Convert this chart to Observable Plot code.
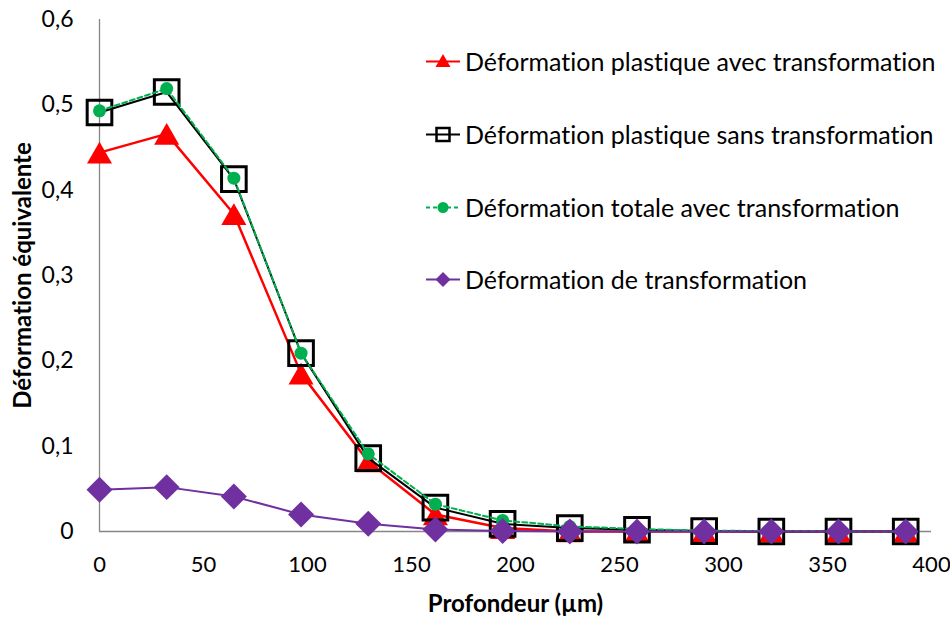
<!DOCTYPE html>
<html><head><meta charset="utf-8">
<script src="https://cdn.jsdelivr.net/npm/d3@7"></script>
<script src="https://cdn.jsdelivr.net/npm/@observablehq/plot@0.6"></script>
<style>
body{margin:0;background:#fff;}
#wrap{position:relative;width:950px;height:617px;font-family:Lato,"Open Sans",sans-serif;}
#wrap, #wrap svg, #wrap text{font-variant-ligatures:none;font-feature-settings:"liga" 0, "clig" 0;}
#legend .row{position:absolute;left:426px;display:flex;align-items:center;white-space:nowrap;font-size:25px;color:#000;height:30px;}
#legend svg{margin-right:5px;}
g[aria-label="x-axis label"] text, g[aria-label="y-axis label"] text{font-weight:bold;font-size:24px;}
</style></head><body><div id="wrap"><div id="legend"></div></div>
<script>
const depth = [0, 32.3, 64.6, 96.9, 129.2, 161.5, 193.8, 226.1, 258.4, 290.7, 323, 355.3, 387.6];
const plastAvec = [0.444, 0.466, 0.372, 0.185, 0.082, 0.020, 0.004, 0, 0, 0, 0, 0, 0];
const plastSans = [0.491, 0.515, 0.413, 0.209, 0.086, 0.028, 0.009, 0.004, 0.002, 0.0005, 0, 0, 0];
const totaleAvec = [0.493, 0.519, 0.414, 0.209, 0.091, 0.032, 0.013, 0.006, 0.003, 0.001, 0.0005, 0, 0];
const transfo = [0.049, 0.052, 0.041, 0.020, 0.009, 0.0023, 0.0005, 0, 0, 0, 0, 0, 0];
const seriesNames = [
  "Déformation plastique avec transformation",
  "Déformation plastique sans transformation",
  "Déformation totale avec transformation",
  "Déformation de transformation"
];
const xTicks = [0, 50, 100, 150, 200, 250, 300, 350, 400];
const yTicks = [0, 0.1, 0.2, 0.3, 0.4, 0.5, 0.6];
const xTitle = "Profondeur (µm)";
const yTitle = "Déformation équivalente";

const mk = vals => depth.map((x, i) => ({x, y: vals[i]}));
const dRed = mk(plastAvec), dBlack = mk(plastSans), dGreen = mk(totaleAvec), dPurple = mk(transfo);

const yFmt = d => d === 0 ? "0" : d3.format(".1f")(d).replace(".", ",");

const chart = Plot.plot({
  width: 950, height: 617,
  marginLeft: 99, marginRight: 19, marginTop: 19, marginBottom: 86,
  style: {fontFamily: "Lato, 'Open Sans', sans-serif", fontSize: "22px", color: "#000", background: "#fff", overflow: "visible"},
  x: {domain: [0, 400]},
  y: {domain: [0, 0.6]},
  marks: [
    Plot.axisX({ticks: xTicks, tickSize: 0, tickPadding: 25, label: xTitle, labelArrow: "none", labelAnchor: "center", labelOffset: 80, fontSize: 22}),
    Plot.axisY({ticks: yTicks, tickSize: 0, tickPadding: 26, tickFormat: yFmt, label: yTitle, labelArrow: "none", labelAnchor: "center", labelOffset: 86, fontSize: 23}),
    Plot.ruleY([0], {stroke: "#868686", strokeWidth: 1.3}),
    Plot.ruleX([0], {y1: 0, y2: 0.6, stroke: "#868686", strokeWidth: 1.3}),
    Plot.line(dRed, {x: "x", y: "y", stroke: "#FF0000", strokeWidth: 2.5}),
    Plot.dot(dRed, {x: "x", y: "y", symbol: "triangle", r: 9.3, fill: "#FF0000", dy: 3.6}),
    Plot.line(dBlack, {x: "x", y: "y", stroke: "#000", strokeWidth: 2}),
    Plot.dot(dBlack, {x: "x", y: "y", symbol: "square", r: 13.9, fill: "none", stroke: "#000", strokeWidth: 3}),
    Plot.line(dGreen, {x: "x", y: "y", stroke: "#00B050", strokeWidth: 2, strokeDasharray: "5,3"}),
    Plot.dot(dGreen, {x: "x", y: "y", symbol: "circle", r: 6.5, fill: "#00B050"}),
    Plot.line(dPurple, {x: "x", y: "y", stroke: "#7030A0", strokeWidth: 2}),
    Plot.dot(dPurple, {x: "x", y: "y", symbol: "diamond2", r: 11.7, fill: "#7030A0"})
  ]
});
document.getElementById("wrap").appendChild(chart);

// Legend overlay
const legendSyms = [
  {color: "#FF0000", dash: null, marker: '<path d="M17,4 L24.5,17 L9.5,17 Z" fill="#FF0000"/>'},
  {color: "#000", dash: null, marker: '<rect x="10.5" y="5" width="13" height="13" fill="none" stroke="#000" stroke-width="2.5"/>'},
  {color: "#00B050", dash: "4,3", marker: '<circle cx="17" cy="11.5" r="5.5" fill="#00B050"/>'},
  {color: "#7030A0", dash: null, marker: '<path d="M17,4 L24.5,11.5 L17,19 L9.5,11.5 Z" fill="#7030A0"/>'}
];
const rowCenters = [61, 134, 207, 279];
const leg = document.getElementById("legend");
seriesNames.forEach((name, i) => {
  const s = legendSyms[i];
  const row = document.createElement("div");
  row.className = "row";
  row.style.top = (rowCenters[i] - 15) + "px";
  row.innerHTML = `<svg width="34" height="23" viewBox="0 0 34 23"><line x1="0" y1="11.5" x2="34" y2="11.5" stroke="${s.color}" stroke-width="2"${s.dash ? ` stroke-dasharray="${s.dash}"` : ""}/>${s.marker}</svg><span>${name}</span>`;
  leg.appendChild(row);
});
</script>
</body></html>
